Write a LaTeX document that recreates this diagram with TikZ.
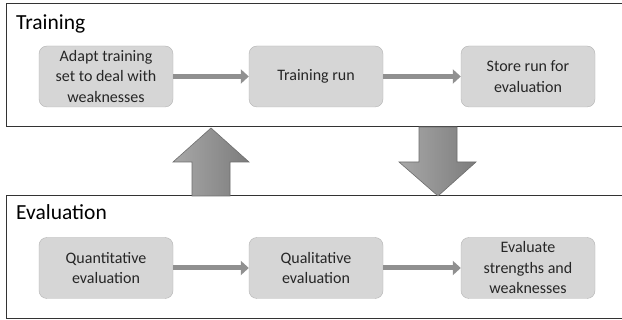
\documentclass[tikz,border=0pt]{standalone}
\usepackage{fontspec}
\setmainfont{Carlito}
\usetikzlibrary{arrows.meta}
\definecolor{boxfill}{HTML}{D6D6D6}
\definecolor{boxline}{HTML}{B4B4B4}
\definecolor{arrowlight}{HTML}{A8A8A8}
\definecolor{arrowdark}{HTML}{7C7C7C}
\definecolor{arrowline}{HTML}{6E6E6E}
\definecolor{textdark}{HTML}{262626}

\begin{document}
\begin{tikzpicture}[x=1pt,y=-1pt,
  stepbox/.style={draw=boxline,fill=boxfill,rounded corners=8pt,minimum width=134pt,
    minimum height=61pt,align=center,font=\fontsize{16}{20.5}\selectfont,
    text=textdark,inner sep=0pt},
  frametitle/.style={anchor=base west,font=\fontsize{21.5}{25}\selectfont,text=black,inner sep=0pt},
  flowarrow/.style={-{Triangle[length=8pt,width=14pt]},line width=5pt,draw=arrowdark!85!white},
  bigarrow/.style={draw=arrowline,line width=0.6pt,left color=arrowlight,right color=arrowdark}]
  \clip (0,0) rectangle (622,320);
  \fill[white] (0,0) rectangle (622,320);
  % frames for the two phases
  \draw[line width=1pt,black!80] (6,4) rectangle (630,127);
  \draw[line width=1pt,black!80] (6,196) rectangle (630,319);
  \node[frametitle] (trainingtitle) at (16,29.5) {Training};
  \node[frametitle] (evaluationtitle) at (16,220) {Evaluation};
  % training steps
  \node[stepbox] (adapt) at (106,76.5) {Adapt training\\set to deal with\\weaknesses};
  \node[stepbox] (trainrun) at (316,76.5) {Training run};
  \node[stepbox] (store) at (528,76.5) {Store run for\\evaluation};
  % evaluation steps
  \node[stepbox] (quant) at (106,268) {Quantitative\\evaluation};
  \node[stepbox] (qual) at (316,268) {Qualitative\\evaluation};
  \node[stepbox] (strengths) at (528,268) {Evaluate\\strengths and\\weaknesses};
  % connectors
  \draw[flowarrow] (adapt) -- (trainrun);
  \draw[flowarrow] (trainrun) -- (store);
  \draw[flowarrow] (quant) -- (qual);
  \draw[flowarrow] (qual) -- (strengths);
  % big arrows between the frames
  \draw[bigarrow] (192,196) -- (192,162) -- (173,162) -- (211,128) -- (249,162)
    -- (230,162) -- (230,196) -- cycle;
  \draw[bigarrow] (419,127) -- (419,162) -- (399,162) -- (438,196) -- (476,162)
    -- (457,162) -- (457,127) -- cycle;
\end{tikzpicture}
\end{document}
